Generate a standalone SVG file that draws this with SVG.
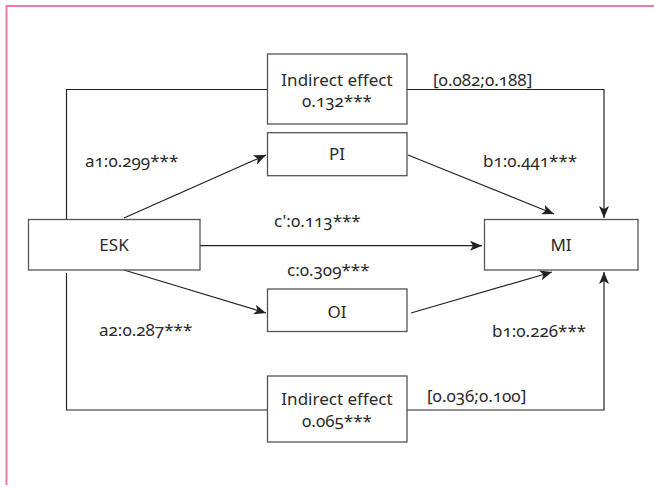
<svg xmlns="http://www.w3.org/2000/svg" width="654" height="487" viewBox="0 0 654 487">
<style>
.box{fill:#fff;stroke:#555;stroke-width:1.3}
.ln{fill:none;stroke:#222;stroke-width:1.2}
text{font-family:"Noto Sans","Open Sans",sans-serif;font-size:17px;fill:#2a2a2a;font-variant-numeric:oldstyle-nums;font-feature-settings:"onum"}
.c{text-anchor:middle}
</style>
<defs>
<marker id="ah" viewBox="0 0 12 10" refX="12" refY="5" markerWidth="12" markerHeight="10" markerUnits="userSpaceOnUse" orient="auto">
<path d="M0,0 L12,5 L0,10 L3,5 Z" fill="#222"/>
</marker>
</defs>
<rect width="654" height="487" fill="#fff"/>
<path d="M654,6 H6.5 V485" fill="none" stroke="#ec7aa8" stroke-width="2"/>
<g id="connectors">
<path class="ln" d="M267.5,89.5 H66.5 V219"/>
<path class="ln" d="M407,89.5 H604 V218" marker-end="url(#ah)"/>
<path class="ln" d="M124,218 L266,155" marker-end="url(#ah)"/>
<path class="ln" d="M408,155 L554,214" marker-end="url(#ah)"/>
<path class="ln" d="M200,245.7 H482" marker-end="url(#ah)"/>
<path class="ln" d="M124,270 L266,313" marker-end="url(#ah)"/>
<path class="ln" d="M411,313 L552,272" marker-end="url(#ah)"/>
<path class="ln" d="M66.5,273 V410 H267.5"/>
<path class="ln" d="M407,410 H604 V272" marker-end="url(#ah)"/>
</g>
<g id="ie1"><rect class="box" x="267.5" y="54" width="139.5" height="70"/><text class="c" x="337" y="86">Indirect effect</text><text class="c" x="337" y="107">0.132***</text></g>
<g id="pi"><rect class="box" x="267.5" y="132.7" width="139.5" height="43"/><text class="c" x="337" y="160">PI</text></g>
<g id="esk"><rect class="box" x="28.5" y="219.5" width="171.5" height="50.5"/><text class="c" x="114" y="251">ESK</text></g>
<g id="mi"><rect class="box" x="484.5" y="219.5" width="153.5" height="50.5"/><text class="c" x="561" y="251">MI</text></g>
<g id="oi"><rect class="box" x="267.5" y="289" width="139.5" height="42.5"/><text class="c" x="337" y="318">OI</text></g>
<g id="ie2"><rect class="box" x="267.5" y="376" width="139.5" height="66"/><text class="c" x="337" y="405">Indirect effect</text><text class="c" x="337" y="427">0.065***</text></g>
<g id="labels">
<text x="433" y="86">[0.082;0.188]</text>
<text x="85" y="167">a1:0.299***</text>
<text x="483" y="167">b1:0.441***</text>
<text x="274" y="227">c':0.113***</text>
<text x="287" y="276">c:0.309***</text>
<text x="99" y="336">a2:0.287***</text>
<text x="492" y="337">b1:0.226***</text>
<text x="427" y="402">[0.036;0.100]</text>
</g>
</svg>
